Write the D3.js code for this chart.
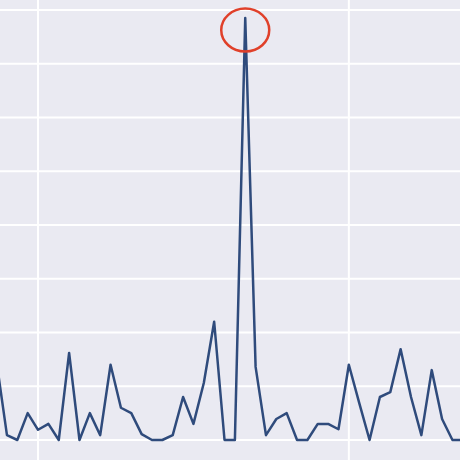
<!DOCTYPE html>
<html>
<head>
<meta charset="utf-8">
<script src="https://cdn.jsdelivr.net/npm/d3@7"></script>
<style>body{margin:0;background:#fff}</style>
</head>
<body>
<svg id="main" width="460" height="460"></svg>
<script>
const values = [1.45, 0.09, 0, 0.5, 0.19, 0.3, 0, 1.62, 0, 0.5, 0.09, 1.4, 0.6, 0.5, 0.11, 0, 0, 0.09,
    0.8, 0.3, 1.06, 2.2, 0, 0, 7.85, 1.36, 0.09, 0.39, 0.5, 0, 0, 0.3, 0.3, 0.2, 1.4, 0.69, 0,
    0.8, 0.89, 1.69, 0.8, 0.09, 1.3, 0.39, 0, 0];
const xTicks = [4, 34];
const yTicks = [0, 1, 2, 3, 4, 5, 6, 7, 8];

const svg = d3.select('#main');
const xScale = d3.scaleLinear().domain([0, 45]).range([-3.4, 462.8]);
const yScale = d3.scaleLinear().domain([0, 8]).range([440, 10]);

svg.append('rect').attr('width', 460).attr('height', 460).attr('fill', '#eaeaf2');

svg.append('g').selectAll('line').data(yTicks).enter().append('line')
    .attr('x1', 0).attr('x2', 460)
    .attr('y1', d => yScale(d)).attr('y2', d => yScale(d))
    .attr('stroke', '#fff').attr('stroke-width', 2);

svg.append('g').selectAll('line').data(xTicks).enter().append('line')
    .attr('y1', 0).attr('y2', 460)
    .attr('x1', d => xScale(d)).attr('x2', d => xScale(d))
    .attr('stroke', '#fff').attr('stroke-width', 2);

svg.append('path')
    .datum(values)
    .attr('fill', 'none')
    .attr('stroke', '#2f4b7c')
    .attr('stroke-width', 2.5)
    .attr('stroke-linejoin', 'round')
    .attr('d', d3.line().x((d, i) => xScale(i)).y(d => yScale(d)));

// highlight the peak
const peak = d3.maxIndex(values);
svg.append('ellipse')
    .attr('cx', xScale(peak))
    .attr('cy', yScale(values[peak]) + 12)
    .attr('rx', 24).attr('ry', 21.5)
    .attr('fill', 'none')
    .attr('stroke', '#e0402a')
    .attr('stroke-width', 2.5);
</script>
</body>
</html>
